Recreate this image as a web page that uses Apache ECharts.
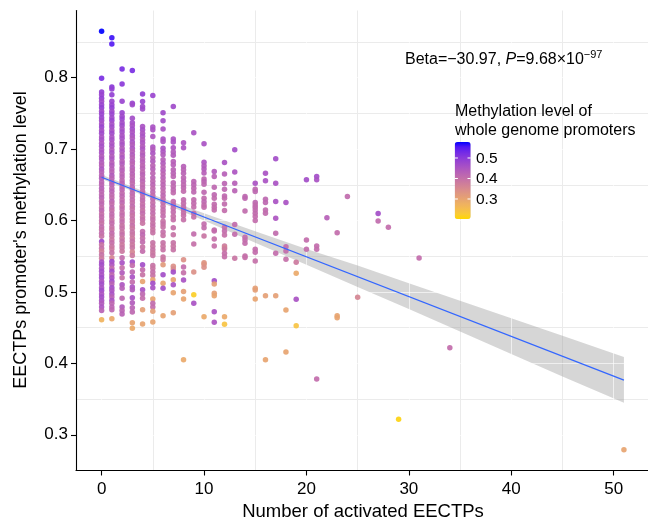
<!DOCTYPE html>
<html><head><meta charset="utf-8">
<script src="https://cdn.jsdelivr.net/npm/echarts@6/dist/echarts.min.js"></script>
<style>html,body{margin:0;padding:0;background:#fff}#chart{width:648px;height:522px}</style>
</head><body><div id="chart"></div>
<script>
const xTicks = [0, 10, 20, 30, 40, 50];
const yTicks = [0.3, 0.4, 0.5, 0.6, 0.7, 0.8];
const xMinorGrid = [5, 15, 25, 35, 45];
const yMinorGrid = [0.35, 0.45, 0.55, 0.65, 0.75, 0.85];
const legendTicks = [0.3, 0.4, 0.5];
const colorRange = [0.2024, 0.578];
const fitX = [0, 51];
const fitY = [0.6606, 0.3765];
const bandX = [0, 5, 10, 15, 20, 25, 30, 35, 40, 45, 51];
const bandLower = [0.658, 0.630, 0.600, 0.569, 0.538, 0.507, 0.476, 0.4445, 0.413, 0.3815, 0.345];
const bandUpper = [0.664, 0.636, 0.610, 0.585, 0.560, 0.537, 0.512, 0.4875, 0.463, 0.4385, 0.409];

// [activated EECTPs, promoter methylation, whole-genome promoter methylation]
const points = [
 // x = 0
 [0,0.865,0.58],[0,0.799,0.52],[0,0.780,0.49],[0,0.776,0.48],[0,0.771,0.49],[0,0.767,0.47],[0,0.762,0.48],[0,0.758,0.49],[0,0.753,0.47],[0,0.749,0.48],[0,0.744,0.48],[0,0.740,0.47],[0,0.735,0.46],[0,0.731,0.48],[0,0.726,0.46],[0,0.722,0.47],[0,0.717,0.455],[0,0.713,0.46],[0,0.708,0.45],[0,0.704,0.46],[0,0.699,0.45],[0,0.695,0.455],[0,0.690,0.44],[0,0.686,0.45],[0,0.681,0.44],[0,0.677,0.43],[0,0.672,0.45],[0,0.668,0.43],[0,0.663,0.425],[0,0.659,0.44],[0,0.654,0.425],[0,0.650,0.42],[0,0.645,0.43],[0,0.641,0.42],[0,0.636,0.415],[0,0.632,0.425],[0,0.627,0.41],[0,0.623,0.415],[0,0.618,0.405],[0,0.614,0.415],[0,0.609,0.40],[0,0.605,0.41],[0,0.600,0.405],[0,0.596,0.395],[0,0.591,0.41],[0,0.587,0.40],[0,0.582,0.405],[0,0.578,0.395],[0,0.5705,0.47],[0,0.566,0.39],[0,0.561,0.40],[0,0.557,0.37],[0,0.552,0.395],[0,0.547,0.38],[0,0.542,0.455],[0,0.538,0.465],[0,0.533,0.45],[0,0.529,0.465],[0,0.524,0.455],[0,0.520,0.47],[0,0.515,0.45],[0,0.511,0.465],[0,0.506,0.455],[0,0.502,0.47],[0,0.497,0.45],[0,0.493,0.465],[0,0.488,0.455],[0,0.484,0.44],[0,0.479,0.45],[0,0.474,0.425],[0,0.461,0.27],
 // x = 1
 [1,0.856,0.56],[1,0.847,0.55],[1,0.787,0.50],[1,0.784,0.49],[1,0.776,0.49],[1,0.767,0.48],[1,0.762,0.48],[1,0.758,0.49],[1,0.753,0.47],[1,0.749,0.48],[1,0.744,0.47],[1,0.740,0.48],[1,0.735,0.46],[1,0.731,0.47],[1,0.726,0.455],[1,0.722,0.47],[1,0.717,0.455],[1,0.713,0.46],[1,0.708,0.45],[1,0.704,0.455],[1,0.699,0.44],[1,0.695,0.455],[1,0.690,0.44],[1,0.686,0.45],[1,0.681,0.43],[1,0.677,0.44],[1,0.672,0.43],[1,0.668,0.425],[1,0.663,0.44],[1,0.659,0.425],[1,0.654,0.42],[1,0.650,0.43],[1,0.645,0.415],[1,0.641,0.425],[1,0.636,0.415],[1,0.632,0.41],[1,0.627,0.42],[1,0.623,0.405],[1,0.618,0.415],[1,0.614,0.40],[1,0.609,0.41],[1,0.605,0.405],[1,0.600,0.395],[1,0.596,0.405],[1,0.591,0.40],[1,0.587,0.39],[1,0.582,0.405],[1,0.578,0.395],[1,0.573,0.385],[1,0.569,0.40],[1,0.564,0.39],[1,0.560,0.38],[1,0.555,0.395],[1,0.548,0.36],[1,0.5425,0.47],[1,0.538,0.45],[1,0.533,0.405],[1,0.529,0.465],[1,0.524,0.415],[1,0.520,0.455],[1,0.515,0.465],[1,0.511,0.425],[1,0.506,0.465],[1,0.502,0.45],[1,0.497,0.455],[1,0.493,0.425],[1,0.488,0.455],[1,0.484,0.415],[1,0.479,0.42],[1,0.475,0.415],[1,0.4626,0.29],
 // x = 2
 [2,0.812,0.52],[2,0.791,0.50],[2,0.767,0.48],[2,0.751,0.48],[2,0.746,0.47],[2,0.742,0.48],[2,0.737,0.465],[2,0.733,0.47],[2,0.728,0.455],[2,0.724,0.465],[2,0.719,0.455],[2,0.715,0.46],[2,0.710,0.45],[2,0.706,0.455],[2,0.701,0.44],[2,0.697,0.45],[2,0.692,0.43],[2,0.688,0.45],[2,0.683,0.43],[2,0.679,0.44],[2,0.674,0.425],[2,0.670,0.43],[2,0.665,0.42],[2,0.661,0.425],[2,0.656,0.415],[2,0.652,0.425],[2,0.647,0.415],[2,0.643,0.42],[2,0.638,0.41],[2,0.634,0.415],[2,0.629,0.405],[2,0.625,0.415],[2,0.620,0.40],[2,0.616,0.41],[2,0.611,0.40],[2,0.607,0.405],[2,0.602,0.395],[2,0.598,0.405],[2,0.593,0.395],[2,0.589,0.40],[2,0.584,0.39],[2,0.580,0.40],[2,0.575,0.385],[2,0.571,0.395],[2,0.566,0.38],[2,0.562,0.39],[2,0.557,0.385],[2,0.548,0.405],[2,0.541,0.455],[2,0.534,0.40],[2,0.527,0.44],[2,0.520,0.395],[2,0.510,0.45],[2,0.505,0.43],[2,0.491,0.415],[2,0.479,0.44],[2,0.474,0.42],[2,0.469,0.425],
 // x = 3
 [3,0.810,0.52],[3,0.764,0.48],[3,0.762,0.47],[3,0.743,0.465],[3,0.737,0.465],[3,0.733,0.455],[3,0.728,0.465],[3,0.724,0.45],[3,0.719,0.455],[3,0.715,0.44],[3,0.710,0.455],[3,0.706,0.44],[3,0.701,0.45],[3,0.697,0.43],[3,0.692,0.44],[3,0.688,0.425],[3,0.683,0.43],[3,0.679,0.42],[3,0.674,0.43],[3,0.670,0.42],[3,0.665,0.425],[3,0.661,0.415],[3,0.656,0.42],[3,0.652,0.41],[3,0.647,0.42],[3,0.643,0.41],[3,0.638,0.415],[3,0.634,0.405],[3,0.629,0.41],[3,0.625,0.40],[3,0.620,0.41],[3,0.616,0.395],[3,0.611,0.405],[3,0.607,0.395],[3,0.602,0.40],[3,0.598,0.39],[3,0.593,0.40],[3,0.589,0.385],[3,0.584,0.395],[3,0.580,0.39],[3,0.575,0.38],[3,0.571,0.395],[3,0.566,0.385],[3,0.562,0.39],[3,0.556,0.36],[3,0.551,0.38],[3,0.542,0.465],[3,0.537,0.405],[3,0.528,0.415],[3,0.521,0.455],[3,0.514,0.405],[3,0.507,0.45],[3,0.503,0.44],[3,0.492,0.455],[3,0.485,0.44],[3,0.478,0.425],[3,0.472,0.415],[3,0.457,0.30],[3,0.449,0.29],
 // x = 4
 [4,0.777,0.49],[4,0.7665,0.48],[4,0.7595,0.47],[4,0.756,0.47],[4,0.7315,0.455],[4,0.727,0.46],[4,0.722,0.45],[4,0.718,0.455],[4,0.713,0.44],[4,0.709,0.45],[4,0.704,0.44],[4,0.700,0.45],[4,0.695,0.43],[4,0.691,0.44],[4,0.686,0.425],[4,0.682,0.43],[4,0.677,0.42],[4,0.673,0.425],[4,0.668,0.415],[4,0.664,0.425],[4,0.659,0.415],[4,0.655,0.42],[4,0.650,0.41],[4,0.646,0.415],[4,0.641,0.405],[4,0.637,0.415],[4,0.632,0.405],[4,0.628,0.41],[4,0.623,0.40],[4,0.619,0.405],[4,0.614,0.395],[4,0.610,0.405],[4,0.605,0.395],[4,0.601,0.40],[4,0.596,0.39],[4,0.5845,0.405],[4,0.580,0.415],[4,0.575,0.40],[4,0.570,0.41],[4,0.563,0.395],[4,0.557,0.405],[4,0.538,0.465],[4,0.531,0.405],[4,0.524,0.395],[4,0.5145,0.30],[4,0.503,0.455],[4,0.497,0.415],[4,0.491,0.405],[4,0.475,0.31],[4,0.455,0.30],
 // x = 5
 [5,0.775,0.48],[5,0.731,0.455],[5,0.727,0.455],[5,0.7175,0.45],[5,0.703,0.45],[5,0.699,0.44],[5,0.694,0.45],[5,0.688,0.43],[5,0.683,0.44],[5,0.677,0.425],[5,0.672,0.43],[5,0.666,0.42],[5,0.660,0.425],[5,0.655,0.415],[5,0.650,0.42],[5,0.645,0.41],[5,0.640,0.415],[5,0.635,0.405],[5,0.630,0.415],[5,0.625,0.40],[5,0.620,0.41],[5,0.615,0.40],[5,0.610,0.405],[5,0.605,0.395],[5,0.601,0.40],[5,0.596,0.395],[5,0.592,0.40],[5,0.587,0.39],[5,0.583,0.395],[5,0.569,0.395],[5,0.564,0.39],[5,0.559,0.395],[5,0.555,0.385],[5,0.551,0.39],[5,0.537,0.395],[5,0.533,0.39],[5,0.528,0.40],[5,0.523,0.395],[5,0.517,0.30],[5,0.512,0.465],[5,0.506,0.455],[5,0.490,0.30],[5,0.484,0.41],[5,0.479,0.405],[5,0.473,0.31],[5,0.458,0.30],
 // x = 6
 [6,0.751,0.47],[6,0.7395,0.465],[6,0.728,0.455],[6,0.714,0.455],[6,0.7105,0.45],[6,0.701,0.455],[6,0.6965,0.45],[6,0.692,0.44],[6,0.685,0.43],[6,0.680,0.44],[6,0.675,0.425],[6,0.670,0.43],[6,0.665,0.42],[6,0.660,0.425],[6,0.655,0.415],[6,0.650,0.42],[6,0.645,0.415],[6,0.640,0.41],[6,0.635,0.415],[6,0.630,0.405],[6,0.625,0.41],[6,0.620,0.40],[6,0.615,0.405],[6,0.611,0.40],[6,0.606,0.405],[6,0.599,0.395],[6,0.595,0.40],[6,0.591,0.395],[6,0.584,0.40],[6,0.579,0.395],[6,0.569,0.395],[6,0.564,0.39],[6,0.559,0.395],[6,0.549,0.39],[6,0.545,0.385],[6,0.538,0.32],[6,0.524,0.465],[6,0.512,0.30],[6,0.505,0.465],[6,0.4668,0.30],
 // x = 7
 [7,0.7595,0.47],[7,0.714,0.455],[7,0.710,0.455],[7,0.702,0.45],[7,0.696,0.44],[7,0.6915,0.44],[7,0.6825,0.43],[7,0.678,0.43],[7,0.671,0.425],[7,0.666,0.425],[7,0.6615,0.42],[7,0.6527,0.42],[7,0.648,0.415],[7,0.643,0.415],[7,0.6387,0.41],[7,0.6265,0.41],[7,0.622,0.405],[7,0.617,0.405],[7,0.612,0.405],[7,0.606,0.40],[7,0.601,0.40],[7,0.590,0.40],[7,0.580,0.395],[7,0.569,0.395],[7,0.564,0.39],[7,0.559,0.395],[7,0.536,0.34],[7,0.532,0.35],[7,0.528,0.465],[7,0.517,0.30],[7,0.510,0.455],[7,0.499,0.30],[7,0.471,0.31],
 // x = 8
 [8,0.709,0.45],[8,0.7017,0.45],[8,0.6755,0.43],[8,0.671,0.425],[8,0.666,0.425],[8,0.660,0.42],[8,0.655,0.42],[8,0.650,0.415],[8,0.646,0.415],[8,0.641,0.41],[8,0.629,0.41],[8,0.624,0.405],[8,0.619,0.405],[8,0.615,0.405],[8,0.611,0.40],[8,0.607,0.40],[8,0.601,0.40],[8,0.545,0.34],[8,0.535,0.405],[8,0.527,0.40],[8,0.5168,0.455],[8,0.5005,0.31],[8,0.490,0.30],[8,0.405,0.29],
 // x = 9
 [9,0.723,0.455],[9,0.6545,0.42],[9,0.650,0.42],[9,0.645,0.415],[9,0.640,0.415],[9,0.629,0.41],[9,0.624,0.41],[9,0.619,0.405],[9,0.610,0.405],[9,0.605,0.40],[9,0.581,0.405],[9,0.567,0.40],[9,0.528,0.34],[9,0.496,0.22],[9,0.484,0.455],
 // x = 10
 [10,0.7073,0.455],[10,0.6814,0.45],[10,0.6768,0.44],[10,0.6721,0.44],[10,0.6665,0.43],[10,0.658,0.415],[10,0.6545,0.42],[10,0.6508,0.415],[10,0.6396,0.415],[10,0.6312,0.41],[10,0.6264,0.415],[10,0.6218,0.41],[10,0.6185,0.405],[10,0.5952,0.405],[10,0.5899,0.405],[10,0.5784,0.39],[10,0.541,0.33],[10,0.5388,0.33],[10,0.5346,0.34],[10,0.4654,0.29],
 // x = 11
 [11,0.6685,0.44],[11,0.6615,0.425],[11,0.6466,0.415],[11,0.6359,0.415],[11,0.6312,0.41],[11,0.6228,0.41],[11,0.6186,0.405],[11,0.6148,0.405],[11,0.5868,0.405],[11,0.5854,0.405],[11,0.5742,0.40],[11,0.5644,0.40],[11,0.5158,0.465],[11,0.5112,0.31],[11,0.4982,0.31],[11,0.4948,0.30],[11,0.4724,0.455],[11,0.4576,0.45],
 // x = 12
 [12,0.6811,0.455],[12,0.665,0.43],[12,0.6517,0.42],[12,0.6438,0.415],[12,0.6344,0.415],[12,0.6312,0.41],[12,0.6232,0.41],[12,0.6139,0.405],[12,0.5906,0.40],[12,0.5854,0.405],[12,0.5798,0.40],[12,0.5644,0.38],[12,0.5620,0.36],[12,0.5602,0.38],[12,0.5542,0.40],[12,0.5494,0.40],[12,0.4654,0.29],[12,0.4548,0.24],
 // x = 13 .. 51
 [13,0.6989,0.465],[13,0.668,0.45],[13,0.6522,0.43],[13,0.6415,0.425],[13,0.5943,0.405],[13,0.5808,0.405],[13,0.5472,0.39],
 [14,0.6335,0.415],[14,0.6312,0.415],[14,0.6134,0.41],[14,0.5766,0.405],[14,0.5728,0.405],[14,0.5682,0.405],[14,0.5504,0.40],[14,0.5481,0.40],
 [15,0.6522,0.455],[15,0.6438,0.415],[15,0.6405,0.415],[15,0.6251,0.415],[15,0.6218,0.41],[15,0.6186,0.41],[15,0.6148,0.41],[15,0.6102,0.41],[15,0.6055,0.405],[15,0.5999,0.405],[15,0.5598,0.405],[15,0.5556,0.405],[15,0.5434,0.40],[15,0.5052,0.31],[15,0.5028,0.31],[15,0.4902,0.30],
 [16,0.6662,0.455],[16,0.6555,0.455],[16,0.6298,0.415],[16,0.6251,0.415],[16,0.6148,0.41],[16,0.6102,0.41],[16,0.4948,0.31],[16,0.405,0.30],
 [17,0.6863,0.465],[17,0.6522,0.455],[17,0.6265,0.455],[17,0.6032,0.45],[17,0.5822,0.41],[17,0.5542,0.405],[17,0.4948,0.31],
 [18,0.6251,0.455],[18,0.5634,0.405],[18,0.5574,0.405],[18,0.5458,0.40],[18,0.4748,0.30],[18,0.416,0.30],
 [19,0.5416,0.38],[19,0.5262,0.29],[19,0.4898,0.455],[19,0.4528,0.24],
 [20,0.6569,0.465],[20,0.5728,0.405],[20,0.5598,0.405],
 [21,0.6615,0.465],[21,0.6569,0.455],[21,0.5644,0.405],[21,0.5598,0.405],[21,0.378,0.405],
 [22,0.604,0.43],
 [23,0.583,0.405],[23,0.4668,0.30],[23,0.464,0.30],
 [24,0.6335,0.41],
 [25,0.4926,0.36],
 [27,0.6097,0.465],[27,0.5994,0.41],
 [28,0.5906,0.405],
 [29,0.3217,0.21],
 [31,0.5476,0.405],
 [34,0.422,0.405],
 [51,0.2791,0.30]
];

// ---- colour scale: gold -> blue interpolated in CIE Lab ----
function srgbToLin(c){c/=255;return c<=0.04045?c/12.92:Math.pow((c+0.055)/1.055,2.4);}
function linToSrgb(c){const v=c<=0.0031308?12.92*c:1.055*Math.pow(c,1/2.4)-0.055;return Math.round(Math.max(0,Math.min(1,v))*255);}
function hexToLab(h){
  const r=srgbToLin(parseInt(h.slice(1,3),16)),g=srgbToLin(parseInt(h.slice(3,5),16)),b=srgbToLin(parseInt(h.slice(5,7),16));
  const X=(0.4124564*r+0.3575761*g+0.1804375*b)/0.95047,Y=0.2126729*r+0.7151522*g+0.0721750*b,Z=(0.0193339*r+0.1191920*g+0.9503041*b)/1.08883;
  const f=t=>t>0.008856?Math.cbrt(t):7.787*t+16/116;
  return [116*f(Y)-16,500*(f(X)-f(Y)),200*(f(Y)-f(Z))];
}
function labToHex(l){
  const fy=(l[0]+16)/116,fx=fy+l[1]/500,fz=fy-l[2]/200;
  const inv=t=>t>0.206893?t*t*t:(t-16/116)/7.787;
  const X=inv(fx)*0.95047,Y=inv(fy),Z=inv(fz)*1.08883;
  const r=3.2404542*X-1.5371385*Y-0.4985314*Z,g=-0.9692660*X+1.8760108*Y+0.0415560*Z,b=0.0556434*X-0.2040259*Y+1.0572252*Z;
  return '#'+[r,g,b].map(v=>linToSrgb(v).toString(16).padStart(2,'0')).join('');
}
const lowLab=hexToLab('#FFD700'),highLab=hexToLab('#0000FF');
const colorStops=[];
for(let i=0;i<=16;i++){const t=i/16;colorStops.push(labToHex([0,1,2].map(k=>lowLab[k]+(highLab[k]-lowLab[k])*t)));}

const FONT='"Liberation Sans", Arial, Helvetica, sans-serif';
const bar={left:454.7,top:142,w:16,h:77};
const tickY=v=>bar.top+(colorRange[1]-v)/(colorRange[1]-colorRange[0])*bar.h;

const graphics=[];
graphics.push({type:'text',x:405,y:59.5,z:10,style:{
  text:'{n|Beta=\u221230.97, }{i|P}{n|=9.68\u00d710}{s|\u221297}',
  textAlign:'left',textVerticalAlign:'middle',fill:'#000',
  rich:{n:{fontSize:16,fontFamily:FONT,lineHeight:20,fill:'#000'},
        i:{fontSize:16,fontFamily:FONT,fontStyle:'italic',lineHeight:20,fill:'#000'},
        s:{fontSize:11,fontFamily:FONT,lineHeight:11,verticalAlign:'top',fill:'#000'}}
}});
graphics.push({type:'text',x:455,y:112,z:10,style:{text:'Methylation level of',font:'16px '+FONT,fill:'#000',textAlign:'left',textVerticalAlign:'middle'}});
graphics.push({type:'text',x:455,y:130.5,z:10,style:{text:'whole genome promoters',font:'16px '+FONT,fill:'#000',textAlign:'left',textVerticalAlign:'middle'}});
legendTicks.forEach(v=>{
  const y=tickY(v);
  graphics.push({type:'line',z:10,shape:{x1:bar.left,y1:y,x2:bar.left+3.2,y2:y},style:{stroke:'#fff',lineWidth:1}});
  graphics.push({type:'line',z:10,shape:{x1:bar.left+bar.w-3.2,y1:y,x2:bar.left+bar.w,y2:y},style:{stroke:'#fff',lineWidth:1}});
  graphics.push({type:'text',x:476,y:y+0.5,z:10,style:{text:v.toFixed(1),font:'15.5px '+FONT,fill:'#000',textAlign:'left',textVerticalAlign:'middle'}});
});
graphics.push({type:'text',x:363,y:511.5,z:10,style:{text:'Number of activated EECTPs',font:'18.5px '+FONT,fill:'#000',textAlign:'center',textVerticalAlign:'middle'}});
graphics.push({type:'text',x:21,y:240,rotation:Math.PI/2,z:10,style:{text:"EECTPs promoter's methylation level",font:'18px '+FONT,fill:'#000',textAlign:'center',textVerticalAlign:'middle'}});

const chart=echarts.init(document.getElementById('chart'),null,{renderer:'canvas'});
chart.setOption({
  animation:false,
  backgroundColor:'#fff',
  grid:{left:76,right:0,top:10.5,bottom:51.5,containLabel:false},
  xAxis:{type:'value',min:-2.5,max:53.35,z:6,
    axisLine:{show:true,onZero:false,lineStyle:{color:'#000',width:1.1}},
    axisTick:{show:true,length:5,lineStyle:{color:'#000',width:1.1},customValues:xTicks},
    axisLabel:{show:true,customValues:xTicks,margin:10,fontSize:17,fontFamily:FONT,color:'#000',formatter:v=>String(v)},
    splitLine:{show:false},minorTick:{show:false}},
  yAxis:{type:'value',min:0.25,max:0.894,z:6,
    axisLine:{show:true,onZero:false,lineStyle:{color:'#000',width:1.1}},
    axisTick:{show:true,length:5,lineStyle:{color:'#000',width:1.1},customValues:yTicks},
    axisLabel:{show:true,customValues:yTicks,margin:8,fontSize:17,fontFamily:FONT,color:'#000',formatter:v=>v.toFixed(1)},
    splitLine:{show:false}},
  visualMap:{type:'continuous',min:colorRange[0],max:colorRange[1],dimension:2,seriesIndex:3,
    left:bar.left,top:bar.top,itemWidth:bar.w,itemHeight:bar.h,padding:0,calculable:false,text:null,
    hoverLink:false,inRange:{color:colorStops}},
  graphic:graphics,
  series:[
    {type:'line',data:[[0,0.6]],showSymbol:false,symbol:'none',lineStyle:{opacity:0},silent:true,
     markLine:{z:1,silent:true,symbol:['none','none'],label:{show:false},animation:false,
       lineStyle:{color:'#ebebeb',width:1,type:'solid'},emphasis:{disabled:true},
       data:xMinorGrid.map(v=>({xAxis:v})).concat(yMinorGrid.map(v=>({yAxis:v})))}},
    {type:'custom',z:2,silent:true,clip:true,data:[[0,0]],
     renderItem:(params,api)=>{
       const pts=[];
       for(let i=0;i<bandX.length;i++)pts.push(api.coord([bandX[i],bandUpper[i]]));
       for(let i=bandX.length-1;i>=0;i--)pts.push(api.coord([bandX[i],bandLower[i]]));
       return {type:'polygon',shape:{points:pts},style:{fill:'#999999',opacity:0.4}};
     }},
    {type:'line',data:[[0,0.6]],showSymbol:false,symbol:'none',lineStyle:{opacity:0},silent:true,
     markLine:{z:3,silent:true,symbol:['none','none'],label:{show:false},animation:false,
       lineStyle:{color:'#ffffff',width:1,type:'solid',opacity:0.6},emphasis:{disabled:true},
       data:xTicks.map(v=>({xAxis:v})).concat(yTicks.map(v=>({yAxis:v})))}},
    {type:'scatter',z:4,data:points,symbol:'circle',symbolSize:5.5,encode:{x:0,y:1},
     itemStyle:{opacity:0.92},silent:true},
    {type:'line',z:5,data:fitX.map((x,i)=>[x,fitY[i]]),symbol:'none',showSymbol:false,silent:true,
     lineStyle:{color:'#3366FF',width:1.2}}
  ]
});
</script></body></html>
